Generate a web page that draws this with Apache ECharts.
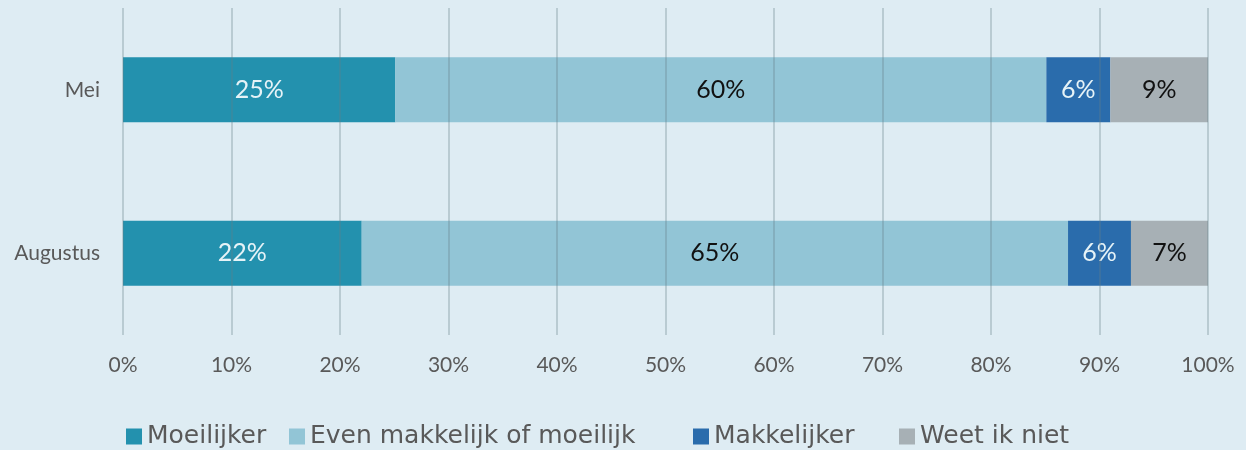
<!DOCTYPE html>
<html lang="nl">
<head>
    <meta charset="UTF-8">
    <title>Moeilijker / makkelijker</title>
    <script src="https://cdn.jsdelivr.net/npm/echarts@6.0.0/dist/echarts.min.js"></script>
    <style>
        html, body { margin: 0; padding: 0; background: #deecf3; }
        #main { width: 1246px; height: 450px; }
    </style>
</head>
<body>
<div id="main"></div>
<script>
    // maanden (van boven naar beneden)
    const categories = ['Mei', 'Augustus'];

    // aandelen in procenten
    const moeilijker = [25.1, 22.0];
    const evenMakkelijk = [60.0, 65.1];
    const makkelijker = [5.9, 5.8];
    const weetNiet = [9.0, 7.1];

    const xTicks = [0, 10, 20, 30, 40, 50, 60, 70, 80, 90, 100];

    const seriesNames = ['Moeilijker', 'Even makkelijk of moeilijk', 'Makkelijker', 'Weet ik niet'];

    const fontFamily = 'Lato, "Open Sans", sans-serif';
    const legendFont = '"DejaVu Sans", "Open Sans", sans-serif';

    const chart = echarts.init(document.getElementById('main'));

    function makeSeries(name, data, color, labelColor) {
        return {
            name: name,
            type: 'bar',
            stack: 'totaal',
            data: data,
            barWidth: 65,
            itemStyle: { color: color },
            label: {
                show: true,
                position: 'inside',
                color: labelColor,
                fontSize: 25,
                fontFamily: fontFamily,
                formatter: p => Math.round(p.value) + '%'
            }
        };
    }

    // één legenda per item, zodat de posities overeenkomen met het origineel
    const legendLeft = [126, 289, 693, 899];
    const legends = seriesNames.map((name, i) => ({
        data: [name],
        left: legendLeft[i],
        top: 424,
        icon: 'rect',
        itemWidth: 16,
        itemHeight: 16,
        itemGap: 7,
        padding: 0,
        textStyle: { color: '#595959', fontSize: 25, fontFamily: legendFont }
    }));

    const option = {
        backgroundColor: '#deecf3',
        animation: false,
        grid: { left: 123, right: 38, top: 8, bottom: 115 },
        xAxis: {
            type: 'value',
            min: 0,
            max: 100,
            interval: 10,
            z: 3, // rasterlijnen boven de balken
            axisLine: { show: false },
            axisTick: { show: false },
            splitLine: {
                show: true,
                lineStyle: { color: 'rgba(100,125,135,0.3)', width: 2 }
            },
            axisLabel: {
                margin: 20,
                color: '#595959',
                fontSize: 21,
                fontFamily: fontFamily,
                formatter: v => xTicks.includes(v) ? v + '%' : ''
            }
        },
        yAxis: {
            type: 'category',
            data: categories,
            inverse: true,
            axisLine: { show: false },
            axisTick: { show: false },
            axisLabel: {
                margin: 23,
                color: '#595959',
                fontSize: 21,
                fontFamily: fontFamily
            }
        },
        legend: legends,
        series: [
            makeSeries(seriesNames[0], moeilijker, '#2391ae', '#e6f3f7'),
            makeSeries(seriesNames[1], evenMakkelijk, '#92c5d6', '#111111'),
            makeSeries(seriesNames[2], makkelijker, '#2a6cac', '#e6f3f7'),
            makeSeries(seriesNames[3], weetNiet, '#a7b0b5', '#111111')
        ]
    };

    chart.setOption(option);
</script>
</body>
</html>
